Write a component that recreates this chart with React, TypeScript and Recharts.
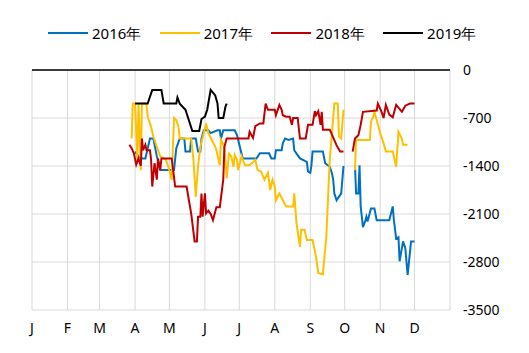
import { LineChart, Line, XAxis, YAxis, CartesianGrid, ReferenceLine } from "recharts";

// x = day of year, month gridlines at month starts
const MONTH_STARTS = [0, 31, 59, 90, 120, 151, 181, 212, 243, 273, 304, 334];
const MONTH_LABELS = ["J", "F", "M", "A", "M", "J", "J", "A", "S", "O", "N", "D"];
const Y_TICKS = [0, -700, -1400, -2100, -2800, -3500];

const SERIES_NAMES = ["2016年", "2017年", "2018年", "2019年"];
const COLORS = ["#0070C0", "#FFC000", "#C00000", "#000000"];

type Pt = [number, number | null];

const S2016: Pt[] = [
  [90, -1190], [93, -1260], [96, -1290], [99, -1290], [103, -1000], [106, -1000], [109, -1260], [112, -1460],
  [124, -1460], [126, -1140], [129, -1000], [133, -1000], [134, -1190], [138, -1190], [139, -1000], [143, -1000],
  [145, -1190], [147, -1190], [148, -1000], [150, -880], [154, -880], [156, -920], [162, -880], [164, -880],
  [165, -1000], [167, -880], [177, -880], [179, -950], [184, -1290], [196, -1290], [199, -1215], [207, -1215],
  [209, -1290], [212, -1290], [213, -1170], [218, -1170], [219, -1070], [221, -1000], [224, -1020], [228, -1000],
  [229, -1170], [231, -1220], [234, -1290], [240, -1340], [241, -1480], [243, -1500], [244, -1390], [245, -1190],
  [254, -1190], [256, -1360], [260, -1410], [262, -1510], [263, -1600], [264, -1800], [266, -1900], [268, -1850],
  [270, -1800], [272, -1400], [277, null], [282, -1390], [283, -1800], [285, -1800], [286, -1390], [287, -1990],
  [289, -2290], [291, -2200], [292, -2140], [293, -2210], [296, -2020], [299, -2020], [301, -2190], [312, -2190],
  [315, -1990], [316, -2190], [318, -2460], [320, -2440], [321, -2790], [324, -2500], [326, -2600], [328, -2990],
  [331, -2500], [334, -2500],
];

const S2017: Pt[] = [
  [87, -1000], [88, -490], [90, -490], [92, -1310], [93, -490], [95, -1460], [96, -490], [99, -490], [100, -510],
  [101, -680], [104, -830], [106, -970], [109, -1120], [112, -1260], [117, -1310], [120, -1460], [122, -1600],
  [124, -700], [126, -730], [128, -830], [129, -1000], [139, -1000], [141, -1310], [143, -1850], [145, -1400],
  [147, -1120], [150, -920], [152, -780], [154, -920], [157, -1020], [160, -1120], [161, -1170], [164, -1390],
  [165, -1020], [168, -1120], [170, -1580], [172, -1220], [174, -1260], [176, -1410], [177, -1240], [179, -1310],
  [180, -1460], [183, -1260], [186, -1390], [190, -1390], [195, -1310], [197, -1460], [200, -1480], [203, -1600],
  [206, -1500], [208, -1750], [210, -1600], [212, -1700], [213, -1900], [216, -1800], [219, -1900], [222, -1990],
  [228, -1990], [229, -1800], [231, -2240], [234, -2580], [235, -2330], [238, -2330], [240, -2480], [245, -2480],
  [248, -2720], [250, -2960], [254, -2980], [257, -2430], [260, -1310], [264, -490], [267, -490], [268, -970],
  [270, -1000], [272, -580], [277, null], [282, -1460], [283, -1020], [295, -1020], [296, -750], [298, -680],
  [299, -610], [301, -730], [304, -920], [307, -1070], [309, -1190], [315, -1190], [318, -1410], [320, -900],
  [323, -1000], [324, -1090], [328, -1090],
];

const S2018: Pt[] = [
  [85, -1090], [87, -1140], [89, -1220], [91, -1380], [93, -1290], [95, -1400], [96, -1000], [97, -1170],
  [99, -1090], [100, -1170], [103, -1170], [104, -1310], [105, -1700], [107, -1360], [109, -1600], [110, -1290],
  [112, -1460], [113, -1290], [122, -1290], [125, -1700], [135, -1700], [137, -1900], [139, -2090], [142, -2500],
  [144, -2500], [145, -2140], [147, -2140], [148, -1800], [149, -2140], [151, -1800], [152, -2090], [154, -2050],
  [156, -2100], [158, -2190], [161, -2000], [164, -2000], [167, -1600], [168, -1120], [170, -1000], [189, -1000],
  [190, -900], [193, -990], [195, -820], [199, -780], [202, -780], [204, -490], [206, -580], [212, -580],
  [213, -660], [216, -510], [218, -580], [219, -660], [222, -680], [225, -680], [227, -800], [228, -700],
  [232, -700], [234, -1000], [239, -1000], [241, -800], [245, -800], [247, -600], [248, -660], [250, -600],
  [252, -800], [253, -610], [254, -870], [260, -870], [266, -1100], [269, -1190], [272, -1190], [277, null],
  [280, -1190], [282, -1000], [285, -950], [287, -800], [289, -610], [301, -590], [302, -490], [305, -600],
  [307, -700], [309, -510], [312, -650], [315, -690], [318, -510], [323, -610], [326, -520], [330, -490],
  [334, -490],
];

const S2019: Pt[] = [
  [90, -490], [101, -490], [105, -290], [113, -290], [115, -490], [126, -490], [127, -400], [129, -490],
  [134, -580], [140, -890], [146, -890], [148, -715], [151, -680], [153, -580], [156, -290], [160, -370],
  [162, -490], [163, -700], [167, -700], [169, -530], [170, -490],
];

const SERIES = [S2016, S2017, S2018, S2019];

const toRows = (pts: Pt[]) => pts.map(([day, v]) => ({ day, v }));

const FONT = "'Noto Sans', Lato, sans-serif";

export default function App() {
  return (
    <div style={{ position: "absolute", left: 0, top: 0, width: 529, height: 353, background: "#fff", fontFamily: FONT }}>
      {/* legend */}
      {SERIES_NAMES.map((name, i) => (
        <div
          key={name}
          style={{ position: "absolute", top: 23, left: 48 + i * 111.7, display: "flex", alignItems: "center", height: 20 }}
        >
          <span style={{ display: "inline-block", width: 40, height: 2, background: COLORS[i], marginRight: 4 }} />
          <span style={{ fontSize: 15, color: "#000" }}>{name}</span>
        </div>
      ))}
      <LineChart width={529} height={353} margin={{ top: 70, right: 0, left: 32, bottom: 13 }}>
        <CartesianGrid stroke="#d9d9d9" strokeWidth={1} />
        <XAxis
          dataKey="day"
          type="number"
          domain={[0, 365]}
          ticks={MONTH_STARTS}
          interval={0}
          tickFormatter={(d: number) => MONTH_LABELS[MONTH_STARTS.indexOf(d)]}
          axisLine={false}
          tickLine={false}
          tickMargin={7}
          height={30}
          tick={{ fill: "#000", fontSize: 14, fontFamily: FONT }}
          allowDuplicatedCategory={false}
        />
        <YAxis
          orientation="right"
          type="number"
          domain={[-3500, 0]}
          ticks={Y_TICKS}
          interval={0}
          width={79}
          axisLine={false}
          tickLine={false}
          tickMargin={7}
          tick={{ fill: "#000", fontSize: 14, fontFamily: FONT }}
        />
        <ReferenceLine y={0} stroke="#000" strokeWidth={1.5} />
        {SERIES.map((s, i) => (
          <Line
            key={SERIES_NAMES[i]}
            data={toRows(s)}
            dataKey="v"
            name={SERIES_NAMES[i]}
            type="linear"
            stroke={COLORS[i]}
            strokeWidth={2}
            dot={false}
            activeDot={false}
            connectNulls={false}
            isAnimationActive={false}
          />
        ))}
      </LineChart>
    </div>
  );
}
